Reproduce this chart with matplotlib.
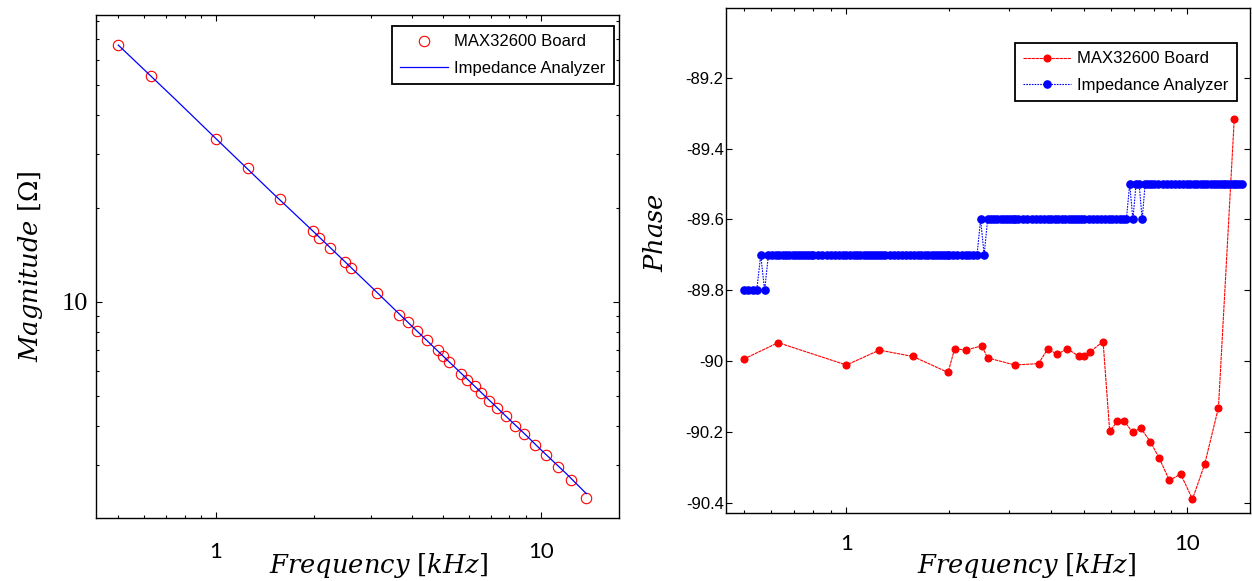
import numpy as np
import matplotlib
matplotlib.use('Agg')
import matplotlib.pyplot as plt
from matplotlib.ticker import FixedLocator, NullFormatter, FuncFormatter

plt.rcParams['axes.unicode_minus'] = False
plt.rcParams['mathtext.fontset'] = 'dejavuserif'
plt.rcParams['axes.linewidth'] = 1.0

narrow = ['Liberation Sans Narrow', 'Liberation Sans', 'DejaVu Sans']

# Frequencies of the MAX32600 board sweep [kHz]
board_freq = [0.50, 0.63, 1.00, 1.25, 1.57, 1.99, 2.08, 2.24, 2.50, 2.60,
              3.13, 3.67, 3.91, 4.16, 4.46, 4.81, 5.00, 5.21, 5.68, 5.94,
              6.26, 6.55, 6.94, 7.32, 7.82, 8.30, 8.90, 9.60, 10.4, 11.3,
              12.4, 13.8]
# Magnitude measured by the board [Ohm]
board_mag = [67.2, 53.4, 33.5, 27.0, 21.4, 16.9, 16.1, 14.95, 13.4, 12.85,
             10.7, 9.08, 8.60, 8.04, 7.52, 7.01, 6.68, 6.41, 5.88, 5.61,
             5.38, 5.10, 4.82, 4.56, 4.31, 4.00, 3.75, 3.48, 3.23, 2.95,
             2.68, 2.34]
# Phase measured by the board [deg]
board_phase = [-89.993, -89.947, -90.010, -89.968, -89.986, -90.031, -89.964,
               -89.968, -89.956, -89.990, -90.010, -90.006, -89.964, -89.980,
               -89.964, -89.985, -89.985, -89.972, -89.944, -90.197, -90.168,
               -90.168, -90.200, -90.187, -90.226, -90.272, -90.335, -90.317,
               -90.388, -90.289, -90.130, -89.316]

# Impedance analyzer magnitude reference
ia_mag_freq = [0.50, 0.75, 1.0, 1.5, 2.0, 3.0, 4.0, 5.0, 6.0, 7.0, 8.0, 9.0,
               10.0, 12.0, 13.8]
ia_mag = [67.0, 44.8, 33.5, 22.3, 16.8, 11.2, 8.38, 6.70, 5.59, 4.79, 4.19,
          3.73, 3.35, 2.80, 2.42]

# Impedance analyzer phase sweep
ia_freq = [0.500, 0.515, 0.530, 0.545, 0.560, 0.575, 0.590, 0.605, 0.620, 0.635,
           0.650, 0.665, 0.680, 0.695, 0.710, 0.725, 0.740, 0.755, 0.770, 0.785,
           0.800, 0.825, 0.850, 0.875, 0.900, 0.925, 0.950, 0.975, 1.000, 1.025,
           1.050, 1.075, 1.100, 1.125, 1.150, 1.175, 1.200, 1.225, 1.250, 1.275,
           1.30, 1.34, 1.38, 1.42, 1.46, 1.50, 1.54, 1.58, 1.62, 1.66,
           1.70, 1.74, 1.78, 1.82, 1.86, 1.90, 1.94, 1.98,
           2.00, 2.06, 2.12, 2.18, 2.24, 2.30, 2.36, 2.42, 2.48, 2.54,
           2.60, 2.66, 2.72, 2.78, 2.84, 2.90, 2.96, 3.02, 3.08, 3.14,
           3.2, 3.3, 3.4, 3.5, 3.6, 3.7, 3.8, 3.9, 4.0, 4.1,
           4.2, 4.3, 4.4, 4.5, 4.6, 4.7, 4.8, 4.9,
           5.00, 5.15, 5.30, 5.45, 5.60, 5.75, 5.90, 6.05, 6.20, 6.35,
           6.50, 6.65, 6.80, 6.95, 7.10, 7.25, 7.40, 7.55, 7.70, 7.85,
           8.00, 8.25, 8.50, 8.75, 9.00, 9.25, 9.50, 9.75, 10.00, 10.25,
           10.50, 10.75, 11.00, 11.25, 11.50, 11.75, 12.00, 12.25, 12.50, 12.75,
           13.00, 13.25, 13.50, 13.75, 14.00, 14.25, 14.50]
# phase readings as (value, number of consecutive points)
ia_phase_runs = [(-89.8, 4), (-89.7, 1), (-89.8, 1), (-89.7, 60), (-89.6, 1),
                 (-89.7, 1), (-89.6, 40), (-89.5, 1), (-89.6, 1), (-89.5, 2),
                 (-89.6, 1), (-89.5, 30)]
ia_phase = np.repeat([v for v, n in ia_phase_runs], [n for v, n in ia_phase_runs])

legend_labels = ['MAX32600 Board', 'Impedance Analyzer']

fig = plt.figure(figsize=(12.52, 5.81), dpi=100)
ax1 = fig.add_axes([0.0767, 0.1084, 0.4177, 0.8657])
ax2 = fig.add_axes([0.5802, 0.1170, 0.4182, 0.8687])

# ---- magnitude ----
ax1.plot(board_freq, board_mag, 'o', mfc='none', mec='red', ms=7.5, mew=0.8,
         label=legend_labels[0])
ax1.plot(ia_mag_freq, ia_mag, '-', color='blue', lw=0.9, label=legend_labels[1])
ax1.set_xscale('log')
ax1.set_yscale('log')
ax1.set_xlim(0.427, 17.4)
ax1.set_ylim(2.02, 83.7)
ax1.xaxis.set_major_locator(FixedLocator([1, 10]))
ax1.xaxis.set_minor_locator(FixedLocator([0.5, 0.6, 0.7, 0.8, 0.9, 2, 3, 4, 5, 6, 7, 8, 9]))
ax1.yaxis.set_major_locator(FixedLocator([10]))
ax1.yaxis.set_minor_locator(FixedLocator([3, 4, 5, 6, 7, 8, 9, 20, 30, 40, 50, 60, 70, 80]))
ax1.xaxis.set_major_formatter(FuncFormatter(lambda v, p: f'{v:g}'))
ax1.yaxis.set_major_formatter(FuncFormatter(lambda v, p: f'{v:g}'))
ax1.xaxis.set_minor_formatter(NullFormatter())
ax1.yaxis.set_minor_formatter(NullFormatter())
ax1.tick_params(axis='x', which='major', pad=17)
ax1.tick_params(axis='y', which='major', pad=6)
for t in ax1.get_xticklabels():
    t.set_fontfamily('Lato')
    t.set_fontsize(16)
for t in ax1.get_yticklabels():
    t.set_fontfamily('Liberation Serif')
    t.set_fontsize(19)
ax1.set_xlabel(r'$Frequency\ [kHz]$', fontsize=18.5, va='center')
ax1.xaxis.set_label_coords(0.541, -0.095)
ax1.set_ylabel(r'$Magnitude\ [\Omega]$', fontsize=18.5, va='center')
ax1.yaxis.set_label_coords(-0.126, 0.5)
leg1 = ax1.legend(loc='upper right', bbox_to_anchor=(0.990, 0.978),
                  borderaxespad=0, fancybox=False, prop={'family': narrow, 'size': 12},
                  handlelength=2.9, handletextpad=0.35, labelspacing=0.7,
                  borderpad=0.5, framealpha=1)
leg1.get_frame().set_edgecolor('black')
leg1.get_frame().set_linewidth(1.3)

# ---- phase ----
ax2.plot(board_freq, board_phase, linestyle=(0, (3, 0.6)), color='red', lw=0.8,
         marker='o', ms=4.8, label=legend_labels[0])
ax2.plot(ia_freq, ia_phase, linestyle=(0, (1.5, 1)), color='blue', lw=0.8,
         marker='o', ms=5.2, label=legend_labels[1])
ax2.set_xscale('log')
ax2.set_xlim(0.444, 15.35)
ax2.set_ylim(-90.427, -89.005)
ax2.xaxis.set_major_locator(FixedLocator([1, 10]))
ax2.xaxis.set_minor_locator(FixedLocator([0.5, 0.6, 0.7, 0.8, 0.9, 2, 3, 4, 5, 6, 7, 8, 9]))
ax2.xaxis.set_major_formatter(FuncFormatter(lambda v, p: f'{v:g}'))
ax2.xaxis.set_minor_formatter(NullFormatter())
ax2.yaxis.set_major_locator(FixedLocator([-90.4, -90.2, -90.0, -89.8, -89.6, -89.4, -89.2]))
ax2.yaxis.set_major_formatter(FuncFormatter(lambda v, p: f'{v:g}'))
ax2.tick_params(axis='x', which='major', pad=15)
ax2.tick_params(axis='y', which='major', pad=2)
for t in ax2.get_xticklabels():
    t.set_fontfamily('Lato')
    t.set_fontsize(16)
for t in ax2.get_yticklabels():
    t.set_fontfamily(narrow)
    t.set_fontsize(12)
ax2.set_xlabel(r'$Frequency\ [kHz]$', fontsize=18.5, va='center')
ax2.xaxis.set_label_coords(0.574, -0.103)
ax2.set_ylabel(r'$Phase$', fontsize=18.5, va='center')
ax2.yaxis.set_label_coords(-0.134, 0.555)
leg2 = ax2.legend(loc='upper right', bbox_to_anchor=(0.975, 0.931),
                  borderaxespad=0, fancybox=False, prop={'family': narrow, 'size': 12},
                  handlelength=2.9, handletextpad=0.35, labelspacing=0.7,
                  borderpad=0.5, framealpha=1)
leg2.get_frame().set_edgecolor('black')
leg2.get_frame().set_linewidth(1.3)

for ax in (ax1, ax2):
    ax.tick_params(which='both', direction='in', top=True, right=True, width=0.8)
    ax.tick_params(which='major', length=4)
    ax.tick_params(which='minor', length=2.5)

fig.savefig('out.png', dpi=100, facecolor='white')
